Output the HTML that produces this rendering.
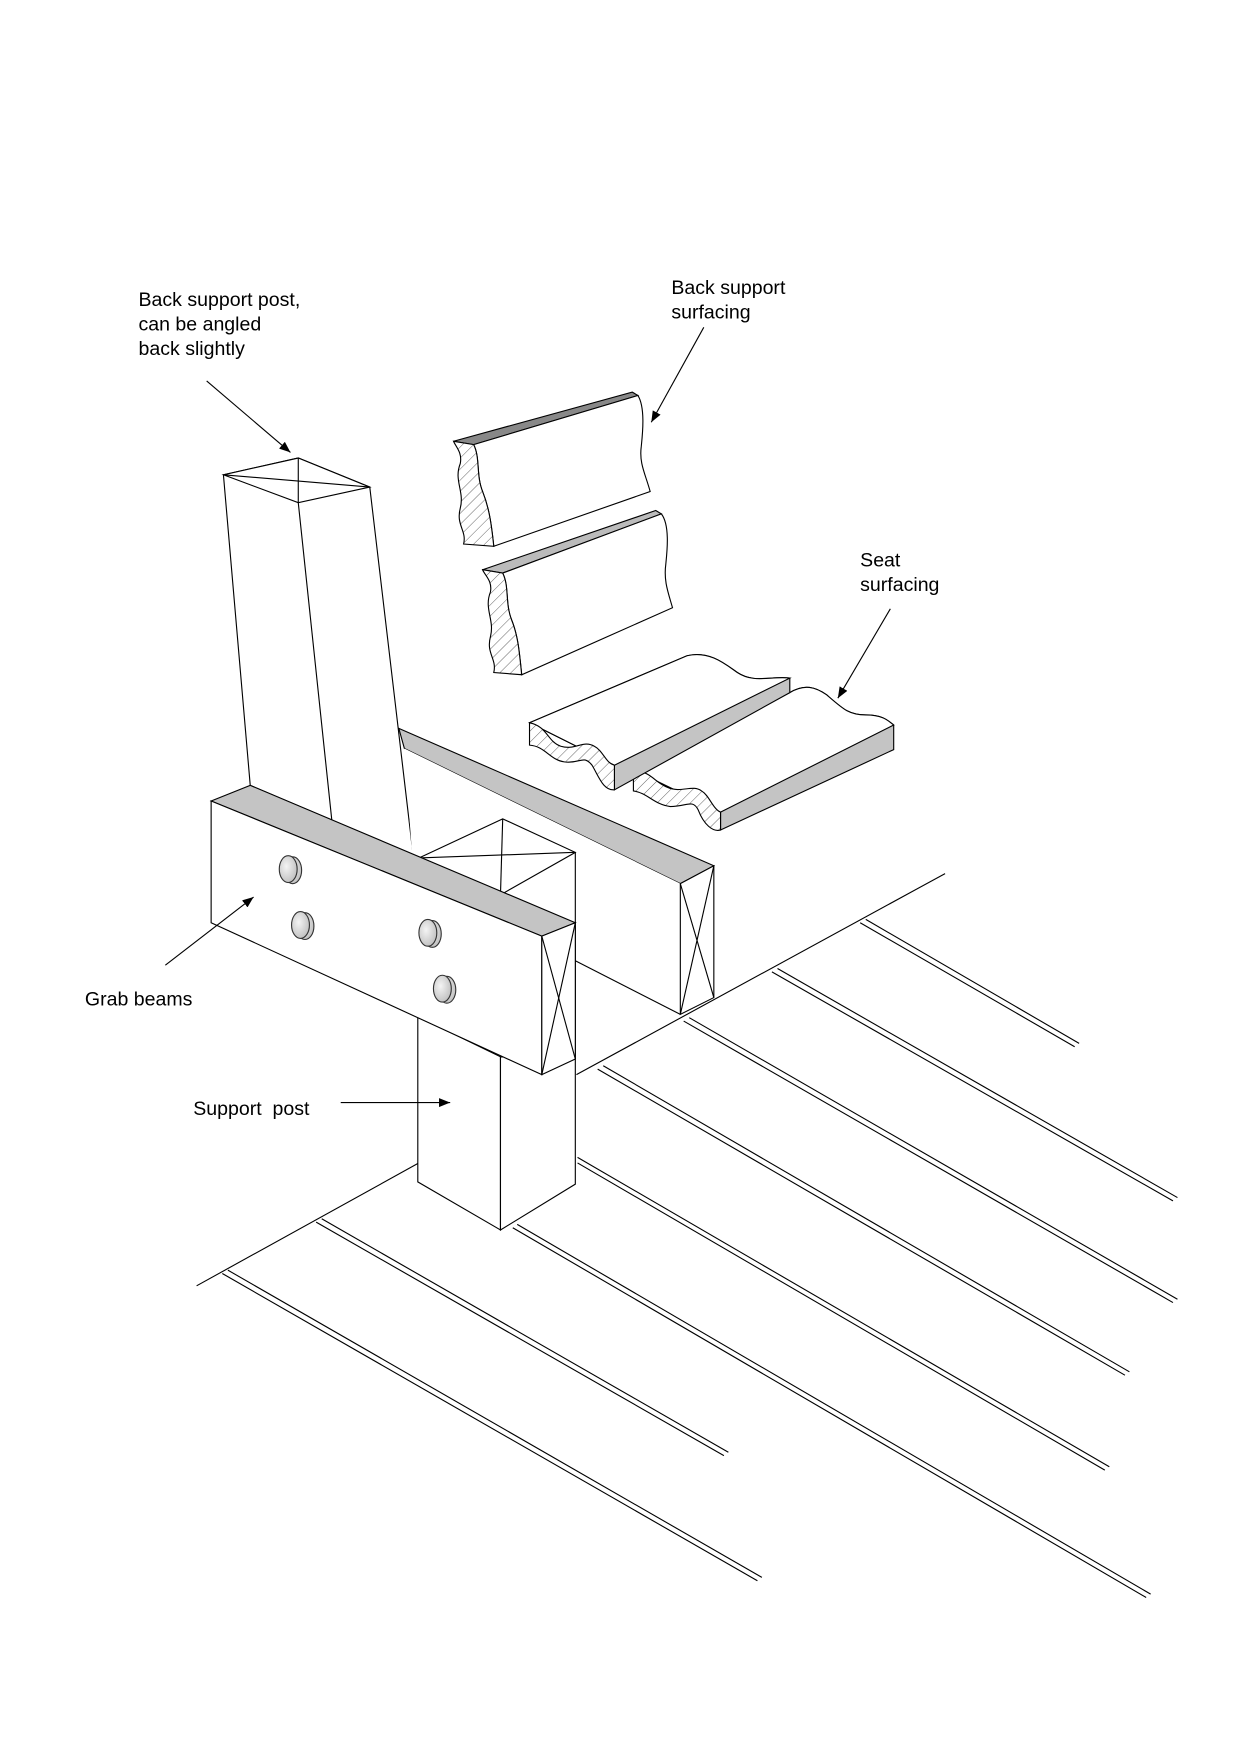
<!DOCTYPE html>
<html><head><meta charset="utf-8"><style>
html,body{margin:0;padding:0;background:#fff}
svg{display:block}
text{font-family:"Liberation Sans",Arial,sans-serif;font-size:17.5px;fill:#000}
</style></head><body>
<svg width="1240" height="1755" viewBox="0 0 1110 1571" preserveAspectRatio="none" xmlns="http://www.w3.org/2000/svg">
<defs>
<pattern id="h" patternUnits="userSpaceOnUse" width="7" height="7" patternTransform="rotate(45)">
<rect width="7" height="7" fill="#fff"/><line x1="0" y1="0" x2="0" y2="7" stroke="#555" stroke-width="0.8"/></pattern>
<marker id="a" markerWidth="10" markerHeight="8" refX="10" refY="4" orient="auto" markerUnits="userSpaceOnUse"><path d="M0,0 L10,4 L0,8z" fill="#000"/></marker>
<radialGradient id="b" cx="0.4" cy="0.4" r="0.7"><stop offset="0" stop-color="#f4f4f4"/><stop offset="1" stop-color="#bbb"/></radialGradient>
</defs>
<g stroke="#000" stroke-width="1" fill="none">
<line x1="176" y1="1151" x2="375" y2="1041"/>
<line x1="516" y1="962" x2="846" y2="782"/>
<g>
<line x1="199" y1="1140" x2="678" y2="1415"/><line x1="204" y1="1137" x2="682" y2="1412"/>
<line x1="283" y1="1094" x2="648" y2="1303"/><line x1="288" y1="1091" x2="652" y2="1300"/>
<line x1="459" y1="1099" x2="1026" y2="1430"/><line x1="463" y1="1096" x2="1030" y2="1427"/>
<line x1="517" y1="1041" x2="989" y2="1316"/><line x1="517" y1="1036" x2="993" y2="1313"/>
<line x1="535" y1="957" x2="1007" y2="1231"/><line x1="540" y1="954" x2="1011" y2="1228"/>
<line x1="612" y1="914" x2="1050" y2="1166"/><line x1="617" y1="911" x2="1054" y2="1163"/>
<line x1="691" y1="870" x2="1050" y2="1075"/><line x1="696" y1="867" x2="1054" y2="1072"/>
<line x1="770" y1="826" x2="962" y2="937"/><line x1="775" y1="823" x2="966" y2="934"/>
</g>
<polygon points="200,425 224,703 297,734 370,767 331,436 267,410" fill="#fff"/>
<polygon points="200,425 267,410 331,436 267,450" fill="#fff"/>
<line x1="200" y1="425" x2="331" y2="436"/><line x1="267" y1="410" x2="267" y2="450"/>
<line x1="267" y1="450" x2="297" y2="734"/>
<polygon points="357,652 639,775 609,791 362,670" fill="#c4c4c4"/>
<polygon points="362,670 609,791 609,908 515,860 370,780" fill="#fff" stroke="none"/>
<polygon points="609,791 639,775 639,893 609,908" fill="#fff"/>
<line x1="609" y1="791" x2="639" y2="893"/><line x1="639" y1="775" x2="609" y2="908"/>
<line x1="515" y1="860" x2="609" y2="908"/>
<polygon points="375,768 450,733 515,763 448,801" fill="#fff"/>
<line x1="375" y1="768" x2="515" y2="763"/><line x1="450" y1="733" x2="448" y2="801"/>
<line x1="515" y1="763" x2="515" y2="948"/>
<polygon points="374,910 374,1058 448,1101 448,946" fill="#fff"/>
<polygon points="448,946 448,1101 515,1060 515,948" fill="#fff"/>
<polygon points="189,717 224,703 515,826 485,838" fill="#c4c4c4"/>
<polygon points="189,717 485,838 485,962 189,826" fill="#fff"/>
<polygon points="485,838 515,826 515,948 485,962" fill="#fff"/>
<line x1="485" y1="838" x2="515" y2="948"/><line x1="515" y1="826" x2="485" y2="962"/>
<g fill="url(#b)" stroke="#333">
<ellipse cx="262" cy="779" rx="8" ry="12"/><ellipse cx="258" cy="778" rx="8" ry="12"/>
<ellipse cx="273" cy="829" rx="8" ry="12"/><ellipse cx="269" cy="828" rx="8" ry="12"/>
<ellipse cx="387" cy="836" rx="8" ry="12"/><ellipse cx="383" cy="835" rx="8" ry="12"/>
<ellipse cx="400" cy="886" rx="8" ry="12"/><ellipse cx="396" cy="885" rx="8" ry="12"/>
</g>
<polygon points="406,395 566,351 571,354 424,398" fill="#888"/>
<path d="M424,398 L571,354 C578,365 575,390 574,400 C572,415 578,425 582,440 L442,489 C440,470 438,455 432,440 C426,425 430,410 424,398Z" fill="#fff"/>
<path d="M406,395 L424,398 C430,410 426,425 432,440 C438,455 440,470 442,489 L415,487 C418,475 408,470 412,455 C416,440 406,430 412,415 C414,405 408,400 406,395Z" fill="url(#h)"/>
<polygon points="432,510 587,457 592,460 450,513" fill="#bbb"/>
<path d="M450,513 L592,460 C600,470 597,495 596,505 C594,520 598,530 602,544 L467,604 C465,585 464,570 458,555 C452,540 456,525 450,513Z" fill="#fff"/>
<path d="M432,510 L450,513 C456,525 452,540 458,555 C464,570 465,585 467,604 L442,602 C445,590 435,585 439,570 C443,555 433,545 439,530 C441,520 434,515 432,510Z" fill="url(#h)"/>
<path d="M567,689 L707,620 C720,612 730,615 740,622 C755,635 760,640 775,640 C790,640 795,645 800,649 L800,671 L645,743 L645,727 Z" fill="#c4c4c4"/>
<path d="M567,689 L707,620 C720,612 730,615 740,622 C755,635 760,640 775,640 C790,640 795,645 800,649 L645,727 Z" fill="#fff"/>
<path d="M567,689 L567,708 C580,710 585,720 600,722 C615,722 620,715 625,725 C630,738 638,745 645,743 L645,727 C638,724 635,712 628,708 C620,702 610,710 598,705 C585,700 585,692 567,689Z" fill="url(#h)"/>
<path d="M474,647 L615,587 C635,582 650,595 660,602 C675,612 690,605 707,607 L707,620 L550,707 L550,685 Z" fill="#c4c4c4"/>
<path d="M474,647 L615,587 C635,582 650,595 660,602 C675,612 690,605 707,607 L550,685 Z" fill="#fff"/>
<path d="M474,647 L474,667 C488,668 492,680 505,682 C520,684 522,675 530,685 C536,695 540,708 550,707 L550,685 C542,683 540,672 532,668 C522,662 515,672 502,668 C490,664 490,650 474,647Z" fill="url(#h)"/>
</g>
<g stroke="#000" stroke-width="1" fill="none" marker-end="url(#a)">
<line x1="185" y1="341" x2="260" y2="405"/>
<line x1="630" y1="293" x2="583" y2="378"/>
<line x1="797" y1="545" x2="750" y2="625"/>
<line x1="148" y1="864" x2="227" y2="803"/>
<line x1="305" y1="987" x2="403" y2="987"/>
</g>
<text x="124" y="274">Back support post,</text>
<text x="124" y="296">can be angled</text>
<text x="124" y="318">back slightly</text>
<text x="601" y="263">Back support</text>
<text x="601" y="285">surfacing</text>
<text x="770" y="507">Seat</text>
<text x="770" y="529">surfacing</text>
<text x="76" y="900">Grab beams</text>
<text x="173" y="998">Support&#160; post</text>
</svg>
</body></html>
